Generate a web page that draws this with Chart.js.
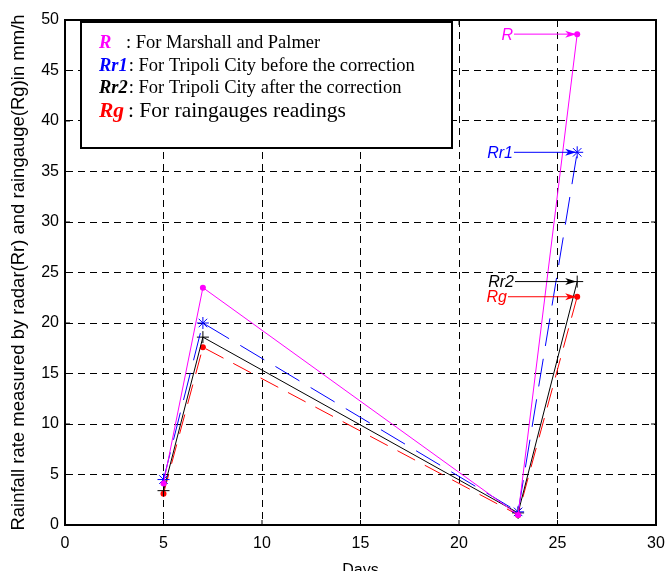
<!DOCTYPE html>
<html><head><meta charset="utf-8">
<script src="https://cdn.jsdelivr.net/npm/chart.js@4.4.1/dist/chart.umd.min.js"></script>
<style>html,body{margin:0;padding:0;background:#fff}#w{width:666px;height:571px}</style>
</head><body><div id="w"><canvas id="c" width="666" height="571"></canvas></div>
<script>
const days = [5, 7, 23, 26];
const R   = [4.1, 23.5, 1.0, 48.6];
const Rr1 = [4.5, 20.0, 1.3, 36.9];
const Rr2 = [3.4, 18.6, 1.2, 24.1];
const Rg  = [3.1, 17.6, 1.0, 22.6];
const xTicks = [0, 5, 10, 15, 20, 25, 30];
const yTicks = [0, 5, 10, 15, 20, 25, 30, 35, 40, 45, 50];
const legendItems = [
  ['R', '#ff00ff', ': For Marshall and Palmer', 18.5],
  ['Rr1', '#0000ff', ': For Tripoli City before the correction', 18.5],
  ['Rr2', '#000000', ': For Tripoli City after the correction', 18.5],
  ['Rg', '#ff0000', ': For raingauges readings', 21.5]
];
const tags = [
  ['R', '#ff00ff', R],
  ['Rr1', '#0000ff', Rr1],
  ['Rr2', '#000000', Rr2],
  ['Rg', '#ff0000', Rg]
];
const toPts = a => days.map((d, i) => ({x: d, y: a[i]}));

const extras = {
  id: 'extras',
  afterDraw(chart) {
    const {ctx, chartArea: ca, scales: {x, y}} = chart;
    ctx.save();
    ctx.strokeStyle = '#000'; ctx.lineWidth = 2; ctx.setLineDash([]);
    ctx.strokeRect(ca.left, ca.top, ca.right - ca.left, ca.bottom - ca.top);
    ctx.lineWidth = 1;
    xTicks.forEach(t => { const px = x.getPixelForValue(t);
      ctx.beginPath(); ctx.moveTo(px, ca.bottom); ctx.lineTo(px, ca.bottom - 5);
      ctx.moveTo(px, ca.top); ctx.lineTo(px, ca.top + 5); ctx.stroke(); });
    yTicks.forEach(t => { const py = y.getPixelForValue(t);
      ctx.beginPath(); ctx.moveTo(ca.left, py); ctx.lineTo(ca.left + 5, py);
      ctx.moveTo(ca.right, py); ctx.lineTo(ca.right - 5, py); ctx.stroke(); });
    // legend box
    ctx.fillStyle = '#fff';
    ctx.fillRect(81, 22, 371, 126);
    ctx.strokeStyle = '#000'; ctx.lineWidth = 2;
    ctx.strokeRect(81, 22, 371, 126);
    const ys = [43, 66, 88, 111];
    legendItems.forEach((it, i) => {
      ctx.textBaseline = 'middle'; ctx.textAlign = 'left';
      ctx.font = 'bold italic ' + it[3] + 'px "Liberation Serif"';
      ctx.fillStyle = it[1];
      ctx.fillText(it[0], 99, ys[i]);
      const lw = ctx.measureText(it[0]).width;
      ctx.font = it[3] + 'px "Liberation Serif"';
      ctx.fillStyle = '#000';
      const tx = it[0] === 'R' ? 126 : (it[0] === 'Rg' ? 128 : 99 + lw + 1);
      ctx.fillText(it[2], tx, ys[i]);
    });
    // tags with arrows
    ctx.font = 'italic 16px "Liberation Sans"';
    ctx.lineWidth = 1;
    const rights = {R: 513, Rr1: 513, Rr2: 514, Rg: 507};
    tags.forEach(t => {
      const px = x.getPixelForValue(days[3]);
      const py = y.getPixelForValue(t[2][3]);
      const textRight = rights[t[0]];
      ctx.fillStyle = t[1]; ctx.strokeStyle = t[1];
      ctx.textAlign = 'right'; ctx.textBaseline = 'middle';
      ctx.fillText(t[0], textRight, py + 1);
      ctx.beginPath(); ctx.moveTo(textRight + 1, py); ctx.lineTo(px - 2, py); ctx.stroke();
      ctx.beginPath(); ctx.moveTo(px - 1, py); ctx.lineTo(px - 12, py - 3.5); ctx.lineTo(px - 9, py); ctx.lineTo(px - 12, py + 3.5); ctx.closePath(); ctx.fill();
    });
    ctx.restore();
  }
};

const gridDash = [7, 5];
new Chart(document.getElementById('c'), {
  type: 'line',
  data: {
    datasets: [
      {label: 'R', data: toPts(R), borderColor: '#ff00ff', backgroundColor: '#ff00ff', borderWidth: 1, pointStyle: 'circle', pointRadius: 3, pointBorderWidth: 0},
      {label: 'Rr1', data: toPts(Rr1), borderColor: '#0000ff', backgroundColor: '#0000ff', borderWidth: 1, borderDash: [28, 13], pointStyle: 'star', pointRadius: 6, pointBorderWidth: 1},
      {label: 'Rr2', data: toPts(Rr2), borderColor: '#000000', backgroundColor: '#000000', borderWidth: 1, pointStyle: 'cross', pointRadius: 6, pointBorderWidth: 1},
      {label: 'Rg', data: toPts(Rg), borderColor: '#ff0000', backgroundColor: '#ff0000', borderWidth: 1, borderDash: [20, 11], pointStyle: 'circle', pointRadius: 3, pointBorderWidth: 0}
    ]
  },
  options: {
    responsive: false, animation: false,
    layout: {padding: {left: 0, right: 0, top: 20, bottom: 0}},
    plugins: {legend: {display: false}, tooltip: {enabled: false}},
    scales: {
      x: {type: 'linear', min: 0, max: 30,
        afterBuildTicks: s => { s.ticks = xTicks.map(v => ({value: v})); },
        afterFit: s => { s.height = 46; s.paddingLeft = 0; s.paddingRight = 10; },
        grid: {color: '#000', lineWidth: 1, drawTicks: false},
        border: {display: true, color: '#000', width: 2, dash: gridDash},
        ticks: {color: '#000', font: {family: 'Liberation Sans', size: 16}, padding: 9, maxRotation: 0},
        title: {display: true, text: 'Days', color: '#000', font: {family: 'Liberation Sans', size: 16}, padding: {top: 0, bottom: -9}}
      },
      y: {type: 'linear', min: 0, max: 50,
        afterBuildTicks: s => { s.ticks = yTicks.map(v => ({value: v})); },
        afterFit: s => { s.width = 65; },
        grid: {color: '#000', lineWidth: 1, drawTicks: false},
        border: {display: true, color: '#000', width: 2, dash: gridDash},
        ticks: {color: '#000', font: {family: 'Liberation Sans', size: 16}, padding: 6},
        title: {display: true, text: 'Rainfall rate measured by radar(Rr) and raingauge(Rg)in mm/h', color: '#000', font: {family: 'Liberation Sans', size: 18.5}, padding: {top: 8, bottom: 0}}
      }
    }
  },
  plugins: [extras]
});
</script>
</body></html>
